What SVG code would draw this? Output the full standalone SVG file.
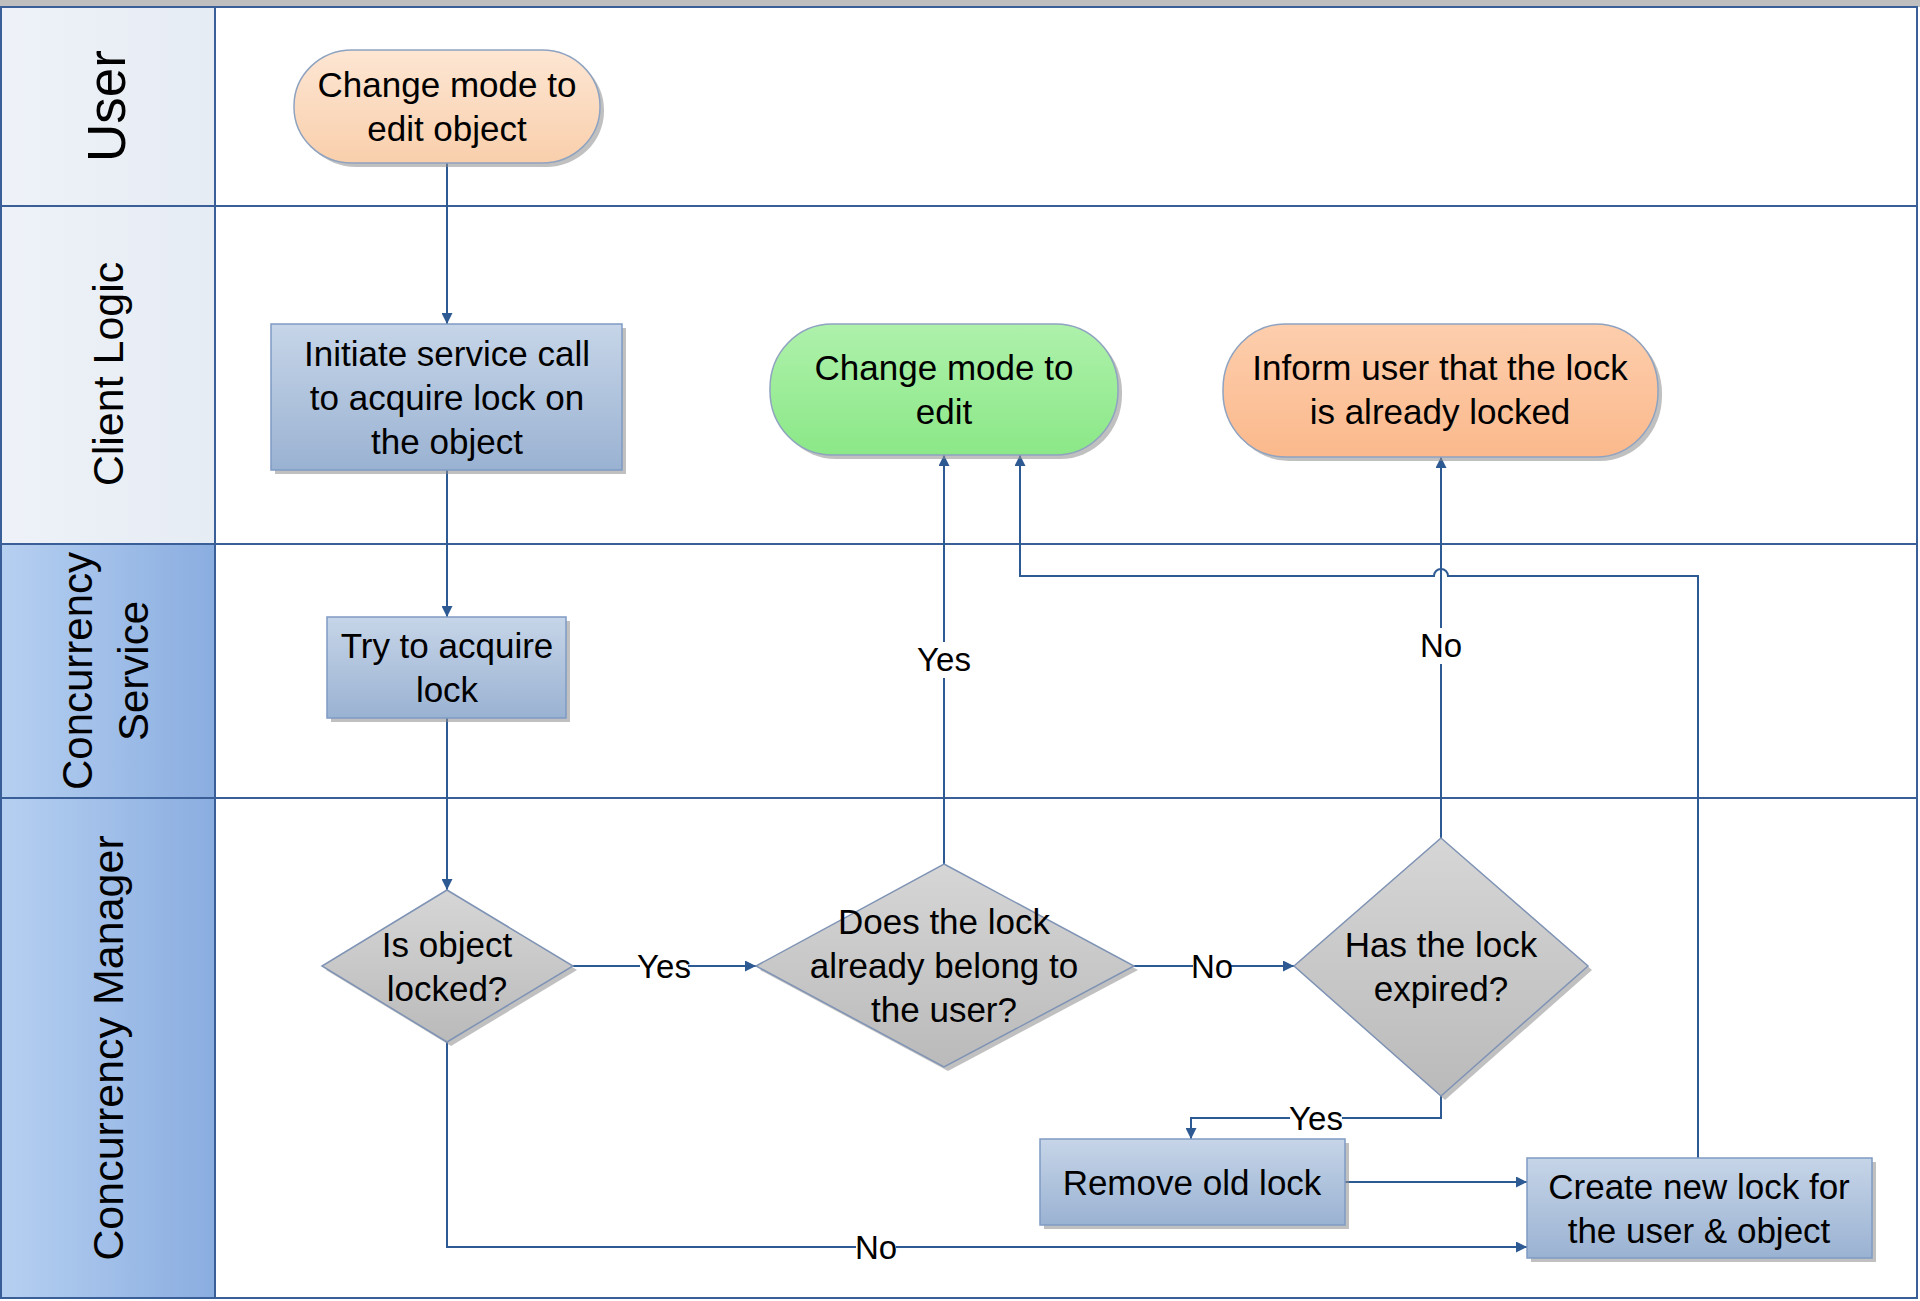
<svg xmlns="http://www.w3.org/2000/svg" width="1920" height="1301" viewBox="0 0 1920 1301">
<defs>
<style>
.lane{stroke:#3A5E98;stroke-width:2;fill:none}
.hdr{font-family:"Liberation Sans",Arial,sans-serif;fill:#000;text-anchor:middle}
.t{font-family:"Liberation Sans",Arial,sans-serif;font-size:35px;fill:#000;text-anchor:middle;dominant-baseline:central}
.lbl{font-family:"Liberation Sans",Arial,sans-serif;font-size:33px;fill:#000;text-anchor:middle;dominant-baseline:central}
.con{stroke:#2E5A94;stroke-width:2;fill:none}
.shd{fill:#8C8C8C;opacity:0.55}
.box{fill:url(#gBox);stroke:#7F9BC4;stroke-width:1.5}
.dia{fill:url(#gDia);stroke:#7F93B5;stroke-width:1.5}
</style>
<linearGradient id="gBox" x1="0" y1="0" x2="0" y2="1"><stop offset="0" stop-color="#C6D5E8"/><stop offset="1" stop-color="#9AB2D2"/></linearGradient>
<linearGradient id="gDia" x1="0" y1="0" x2="0" y2="1"><stop offset="0" stop-color="#D6D6D6"/><stop offset="1" stop-color="#BABABA"/></linearGradient>
<linearGradient id="gPeach" x1="0" y1="0" x2="0" y2="1"><stop offset="0" stop-color="#FDE6D3"/><stop offset="1" stop-color="#F9CFAC"/></linearGradient>
<linearGradient id="gGreen" x1="0" y1="0" x2="0" y2="1"><stop offset="0" stop-color="#AEF1AB"/><stop offset="1" stop-color="#8BE887"/></linearGradient>
<linearGradient id="gOrange" x1="0" y1="0" x2="0" y2="1"><stop offset="0" stop-color="#FDCEAD"/><stop offset="1" stop-color="#FBB98C"/></linearGradient>
<linearGradient id="gHdrL" x1="0" y1="0" x2="1" y2="0"><stop offset="0" stop-color="#EEF2F8"/><stop offset="1" stop-color="#E6ECF4"/></linearGradient>
<linearGradient id="gHdrB" x1="0" y1="0" x2="1" y2="0"><stop offset="0" stop-color="#B6D0F1"/><stop offset="1" stop-color="#8AADE0"/></linearGradient>
<marker id="arr" viewBox="0 0 10 10" refX="10" refY="5" markerWidth="12" markerHeight="11" markerUnits="userSpaceOnUse" orient="auto"><path d="M0,0 L10,5 L0,10 z" fill="#2E5A94"/></marker>
</defs>

<rect x="0" y="0" width="1920" height="1301" fill="#FFFFFF"/>

<g id="lanes">
<rect x="0" y="0" width="1920" height="7" fill="#BFBFBF"/>
<rect x="1" y="7" width="214" height="199" fill="url(#gHdrL)"/>
<rect x="1" y="206" width="214" height="338" fill="url(#gHdrL)"/>
<rect x="1" y="544" width="214" height="254" fill="url(#gHdrB)"/>
<rect x="1" y="798" width="214" height="500" fill="url(#gHdrB)"/>
<rect class="lane" x="1" y="7" width="1916" height="1291"/>
<line class="lane" x1="215" y1="7" x2="215" y2="1298"/>
<line class="lane" x1="1" y1="206" x2="1917" y2="206"/>
<line class="lane" x1="1" y1="544" x2="1917" y2="544"/>
<line class="lane" x1="1" y1="798" x2="1917" y2="798"/>
<text class="hdr" font-size="53" transform="translate(107,106) rotate(-90)" dy="18">User</text>
<text class="hdr" font-size="43" transform="translate(108,374) rotate(-90)" dy="15">Client Logic</text>
<text class="hdr" font-size="42" transform="translate(77,671) rotate(-90)" dy="15">Concurrency</text>
<text class="hdr" font-size="42" transform="translate(133,671) rotate(-90)" dy="15">Service</text>
<text class="hdr" font-size="43" transform="translate(108,1048) rotate(-90)" dy="15">Concurrency Manager</text>
</g>

<g id="connectors">
<line class="con" x1="447" y1="163" x2="447" y2="324" marker-end="url(#arr)"/>
<line class="con" x1="447" y1="470" x2="447" y2="617" marker-end="url(#arr)"/>
<line class="con" x1="447" y1="718" x2="447" y2="890" marker-end="url(#arr)"/>
<line class="con" x1="573" y1="966" x2="756" y2="966" marker-end="url(#arr)"/>
<line class="con" x1="1134" y1="966" x2="1294" y2="966" marker-end="url(#arr)"/>
<line class="con" x1="944" y1="864" x2="944" y2="455" marker-end="url(#arr)"/>
<line class="con" x1="1441" y1="838" x2="1441" y2="457" marker-end="url(#arr)"/>
<polyline class="con" points="1441,1096 1441,1118 1191,1118 1191,1139" marker-end="url(#arr)"/>
<line class="con" x1="1345" y1="1182" x2="1527" y2="1182" marker-end="url(#arr)"/>
<polyline class="con" points="447,1042 447,1247 1527,1247" marker-end="url(#arr)"/>
<path class="con" d="M1698,1158 L1698,576 L1448,576 A7,7 0 0 0 1434,576 L1020,576 L1020,455" marker-end="url(#arr)"/>
<rect x="640" y="950" width="48" height="32" fill="#FFFFFF"/>
<text class="lbl" x="664" y="966">Yes</text>
<rect x="1193" y="950" width="38" height="32" fill="#FFFFFF"/>
<text class="lbl" x="1212" y="966">No</text>
<rect x="918" y="642" width="52" height="36" fill="#FFFFFF"/>
<text class="lbl" x="944" y="659">Yes</text>
<rect x="1421" y="628" width="40" height="36" fill="#FFFFFF"/>
<text class="lbl" x="1441" y="645">No</text>
<rect x="1290" y="1102" width="52" height="32" fill="#FFFFFF"/>
<text class="lbl" x="1316" y="1118">Yes</text>
<rect x="856" y="1231" width="40" height="32" fill="#FFFFFF"/>
<text class="lbl" x="876" y="1247">No</text>
</g>

<g id="n1">
<rect class="shd" x="298" y="54" width="306" height="113" rx="58" ry="56"/>
<rect x="294" y="50" width="306" height="113" rx="58" ry="56" fill="url(#gPeach)" stroke="#8FA3C0" stroke-width="1.5"/>
<text class="t" x="447" y="84">Change mode to</text>
<text class="t" x="447" y="128">edit object</text>
</g>

<g id="n2">
<rect class="shd" x="275" y="328" width="351" height="146"/>
<rect class="box" x="271" y="324" width="351" height="146"/>
<text class="t" x="447" y="353">Initiate service call</text>
<text class="t" x="447" y="397">to acquire lock on</text>
<text class="t" x="447" y="441">the object</text>
</g>

<g id="n3">
<rect class="shd" x="331" y="621" width="239" height="101"/>
<rect class="box" x="327" y="617" width="239" height="101"/>
<text class="t" x="447" y="645">Try to acquire</text>
<text class="t" x="447" y="689">lock</text>
</g>

<g id="n4">
<polygon class="shd" points="451,894 577,970 451,1046 326,970"/>
<polygon class="dia" points="447,890 573,966 447,1042 322,966"/>
<text class="t" x="447" y="944">Is object</text>
<text class="t" x="447" y="988">locked?</text>
</g>

<g id="n5">
<polygon class="shd" points="948,868 1138,970 948,1071 760,970"/>
<polygon class="dia" points="944,864 1134,966 944,1067 756,966"/>
<text class="t" x="944" y="921">Does the lock</text>
<text class="t" x="944" y="965">already belong to</text>
<text class="t" x="944" y="1009">the user?</text>
</g>

<g id="n6">
<polygon class="shd" points="1445,842 1592,970 1445,1100 1298,970"/>
<polygon class="dia" points="1441,838 1588,966 1441,1096 1294,966"/>
<text class="t" x="1441" y="944">Has the lock</text>
<text class="t" x="1441" y="988">expired?</text>
</g>

<g id="n7">
<rect class="shd" x="774" y="328" width="348" height="131" rx="62" ry="64"/>
<rect x="770" y="324" width="348" height="131" rx="62" ry="64" fill="url(#gGreen)" stroke="#8FA3C0" stroke-width="1.5"/>
<text class="t" x="944" y="367">Change mode to</text>
<text class="t" x="944" y="411">edit</text>
</g>

<g id="n8">
<rect class="shd" x="1227" y="328" width="435" height="133" rx="62" ry="65"/>
<rect x="1223" y="324" width="435" height="133" rx="62" ry="65" fill="url(#gOrange)" stroke="#8FA3C0" stroke-width="1.5"/>
<text class="t" x="1440" y="367">Inform user that the lock</text>
<text class="t" x="1440" y="411">is already locked</text>
</g>

<g id="n9">
<rect class="shd" x="1044" y="1143" width="305" height="86"/>
<rect class="box" x="1040" y="1139" width="305" height="86"/>
<text class="t" x="1192" y="1182">Remove old lock</text>
</g>

<g id="n10">
<rect class="shd" x="1531" y="1162" width="345" height="100"/>
<rect class="box" x="1527" y="1158" width="345" height="100"/>
<text class="t" x="1699" y="1186">Create new lock for</text>
<text class="t" x="1699" y="1230">the user &amp; object</text>
</g>
</svg>
